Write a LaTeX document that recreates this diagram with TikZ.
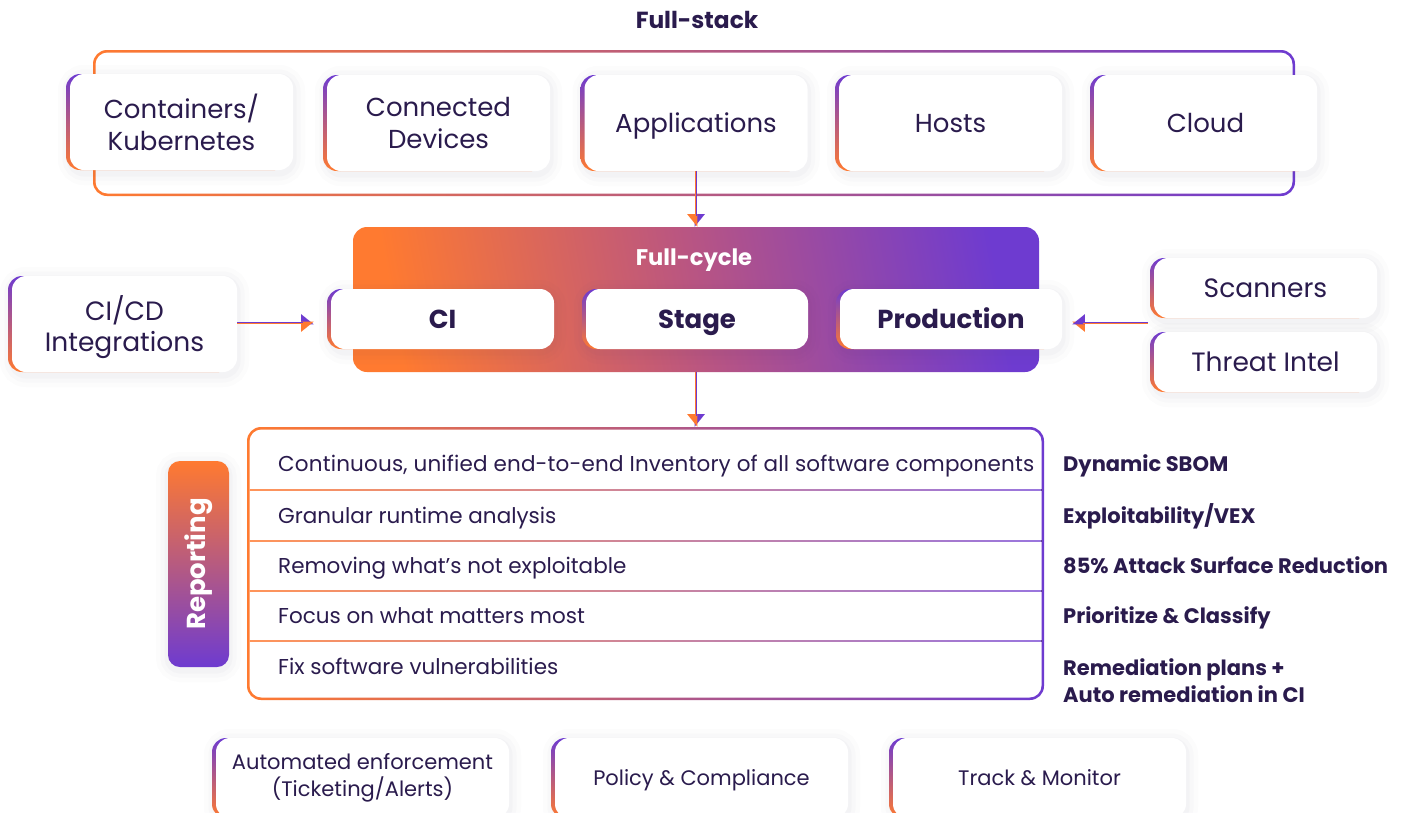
\documentclass[tikz,border=0pt]{standalone}
\usepackage{fontspec}
\setmainfont{Poppins}
\usetikzlibrary{arrows.meta,calc}
\definecolor{orA}{HTML}{FF7A30}
\definecolor{puA}{HTML}{6E3BD0}
\definecolor{txt}{HTML}{2A1B4D}
\definecolor{shd}{HTML}{4A4070}
\tikzset{
  shadowed/.style={
    preaction={draw=shd, line width=24pt, opacity=0.014, transform canvas={yshift=-3pt}},
    preaction={draw=shd, line width=15pt, opacity=0.018, transform canvas={yshift=-3pt}},
    preaction={draw=shd, line width=7pt, opacity=0.022, transform canvas={yshift=-3pt}},
  },
  card/.style={shadowed,
    preaction={top color=puA, bottom color=orA, transform canvas={xshift=-4pt}},
    rectangle, rounded corners=14pt, fill=white, text=txt, align=center, inner sep=0pt},
  oneline/.style={text height=#1, text depth=0pt},
  topfont/.style={font=\fontsize{26}{32}\selectfont},
  midfont/.style={oneline=19.2pt, font=\bfseries\fontsize{26}{30}\selectfont},
  sidefont/.style={font=\fontsize{26.5}{31}\selectfont},
  rowtxt/.style={anchor=west, oneline=15.9pt, text=txt, inner sep=0pt, font=\fontsize{21.5}{24}\selectfont},
  lbl/.style={anchor=west, text=txt, inner sep=0pt, align=left, font=\bfseries\fontsize{21}{27}\selectfont},
  botfont/.style={font=\fontsize{21}{27}\selectfont},
  gradframe/.style={rectangle, rounded corners=14pt, left color=orA, right color=puA, inner sep=0pt},
  innerwhite/.style={rectangle, rounded corners=12pt, fill=white, inner sep=0pt},
  tipA/.style={-{Triangle[#1,length=11pt,width=17pt]}},
  conn/.style={line width=2.6pt},
  halfconn/.style={line width=1.3pt, shorten >=11pt},
}
\begin{document}
\begin{tikzpicture}[x=1pt,y=-1pt]
\useasboundingbox (0,0) rectangle (1406,812);
\fill[white] (0,0) rectangle (1406,812);

% Full-stack
\node[text=txt, oneline=17.2pt, font=\bfseries\fontsize{23.3}{26}\selectfont] (fstitle) at (697,20) {Full-stack};
\node[gradframe, minimum width=1202pt, minimum height=146pt] (fs) at (694,123) {};
\node[innerwhite, minimum width=1197pt, minimum height=141pt] (fsin) at (fs.center) {};

\node[card, topfont, minimum width=223pt, minimum height=96pt] (cont) at (181.5,122) {Containers/\\Kubernetes};
\node[card, topfont, minimum width=223pt, minimum height=96pt] (conn) at (438.5,123) {Connected\\Devices};
\node[card, topfont, oneline=19.2pt, minimum width=223pt, minimum height=96pt] (app) at (696,123) {Applications};
\node[card, topfont, oneline=19.2pt, minimum width=223pt, minimum height=96pt] (hosts) at (950.5,123) {Hosts};
\node[card, topfont, oneline=19.2pt, minimum width=223pt, minimum height=96pt] (cloud) at (1205.5,123) {Cloud};

% Full-cycle
\node[rectangle, rounded corners=14pt, left color=orA, right color=puA, middle color={rgb,255:red,185;green,85;blue,130}, shading angle=100, minimum width=686pt, minimum height=145pt, inner sep=0pt] (fc) at (696,299.5) {};
\node[text=white, oneline=16.7pt, font=\bfseries\fontsize{22.6}{26}\selectfont] (fctitle) at (694,257) {Full-cycle};
\node[card, midfont, minimum width=223pt, minimum height=60pt] (ci) at (442.5,319) {CI};
\node[card, midfont, minimum width=222pt, minimum height=60pt] (stage) at (697,319) {Stage};
\node[card, midfont, minimum width=222pt, minimum height=60pt] (prod) at (951,319) {Production};

% side cards
\node[card, sidefont, minimum width=225pt, minimum height=96pt] (cicd) at (124.5,324) {};
\node[text=txt, align=center, sidefont, inner sep=0pt] (cicdtxt) at (124.5,327) {CI/CD\\Integrations};
\node[card, sidefont, oneline=19.6pt, minimum width=223pt, minimum height=60pt] (scan) at (1265.5,288) {Scanners};
\node[card, sidefont, oneline=19.6pt, minimum width=223pt, minimum height=60pt] (thr) at (1265.5,362) {Threat Intel};

% Table
\node[gradframe, minimum width=797pt, minimum height=273pt] (tbl) at (645.5,563.5) {};
\node[innerwhite, minimum width=792pt, minimum height=268pt] (tblin) at (tbl.center) {};
\foreach \yy in {490,541,591,641}{
  \fill[left color=orA!80, right color=puA!70] (249.5,\yy-0.9) rectangle (1041.5,\yy+0.9);
}
\node[rowtxt] (r1) at (278,464) {\addfontfeature{LetterSpace=0.8}Continuous, unified end-to-end Inventory of all software components};
\node[rowtxt] (r2) at (278,516) {Granular runtime analysis};
\node[rowtxt] (r3) at (278,566) {Removing what’s not exploitable};
\node[rowtxt] (r4) at (278,616) {Focus on what matters most};
\node[rowtxt] (r5) at (278,667) {Fix software vulnerabilities};

\node[lbl, oneline=15.5pt] (l1) at (1063,464) {Dynamic SBOM};
\node[lbl, oneline=15.5pt] (l2) at (1063,516) {Exploitability/VEX};
\node[lbl, oneline=15.5pt] (l3) at (1063,566) {85\% Attack Surface Reduction};
\node[lbl, oneline=15.5pt] (l4) at (1063,616) {Prioritize \& Classify};
\node[lbl] (l5) at (1063,681) {Remediation plans +\\Auto remediation in CI};

% Reporting
\node[shadowed, rectangle, rounded corners=12pt, top color=orA, bottom color=puA, minimum width=61pt, minimum height=206pt, inner sep=0pt] (rep) at (198.5,564) {};
\node[rotate=90, text=white, font=\bfseries\fontsize{26}{28}\selectfont] (reptxt) at (rep.center) {Reporting};

% bottom cards
\node[card, botfont, minimum width=293pt, minimum height=80pt] (auto) at (362.5,778) {Automated enforcement\\(Ticketing/Alerts)};
\node[card, botfont, oneline=15.5pt, minimum width=293pt, minimum height=80pt] (pol) at (701.5,778) {Policy \& Compliance};
\node[card, botfont, oneline=15.5pt, minimum width=293pt, minimum height=80pt] (track) at (1039.5,778) {Track \& Monitor};

% connectors
% Applications -> Full-cycle (down)
\draw[conn, puA, tipA=left] (app.south) -- (app.south |- fc.north);
\draw[conn, orA, tipA=right] (app.south) -- (app.south |- fc.north);
\draw[halfconn, puA, transform canvas={xshift=0.65pt}] (app.south) -- (app.south |- fc.north);
% Full-cycle -> table (down)
\draw[conn, puA, tipA=left] (fc.south) -- (fc.south |- tbl.north);
\draw[conn, orA, tipA=right] (fc.south) -- (fc.south |- tbl.north);
\draw[halfconn, puA, transform canvas={xshift=0.65pt}] (fc.south) -- (fc.south |- tbl.north);
% CI/CD -> CI (right)
\coordinate (cicdEnd) at ($(cicd.east -| ci.west)+(-17,-1)$);
\draw[conn, puA, tipA=left] (cicd.east |- cicdEnd) -- (cicdEnd);
\draw[conn, orA, tipA=right] (cicd.east |- cicdEnd) -- (cicdEnd);
\draw[halfconn, puA, transform canvas={yshift=0.65pt}] (cicd.east |- cicdEnd) -- (cicdEnd);
% Scanners/Threat -> Production (left)
\coordinate (src) at ($(scan.south west)!0.5!(thr.north west)+(-6,-2)$);
\coordinate (prodEnd) at ($(src -| prod.east)+(10,0)$);
\draw[conn, orA, tipA=left] (src) -- (prodEnd);
\draw[conn, puA, tipA=right] (src) -- (prodEnd);
\draw[halfconn, orA, transform canvas={yshift=-0.65pt}] (src) -- (prodEnd);
\end{tikzpicture}
\end{document}
